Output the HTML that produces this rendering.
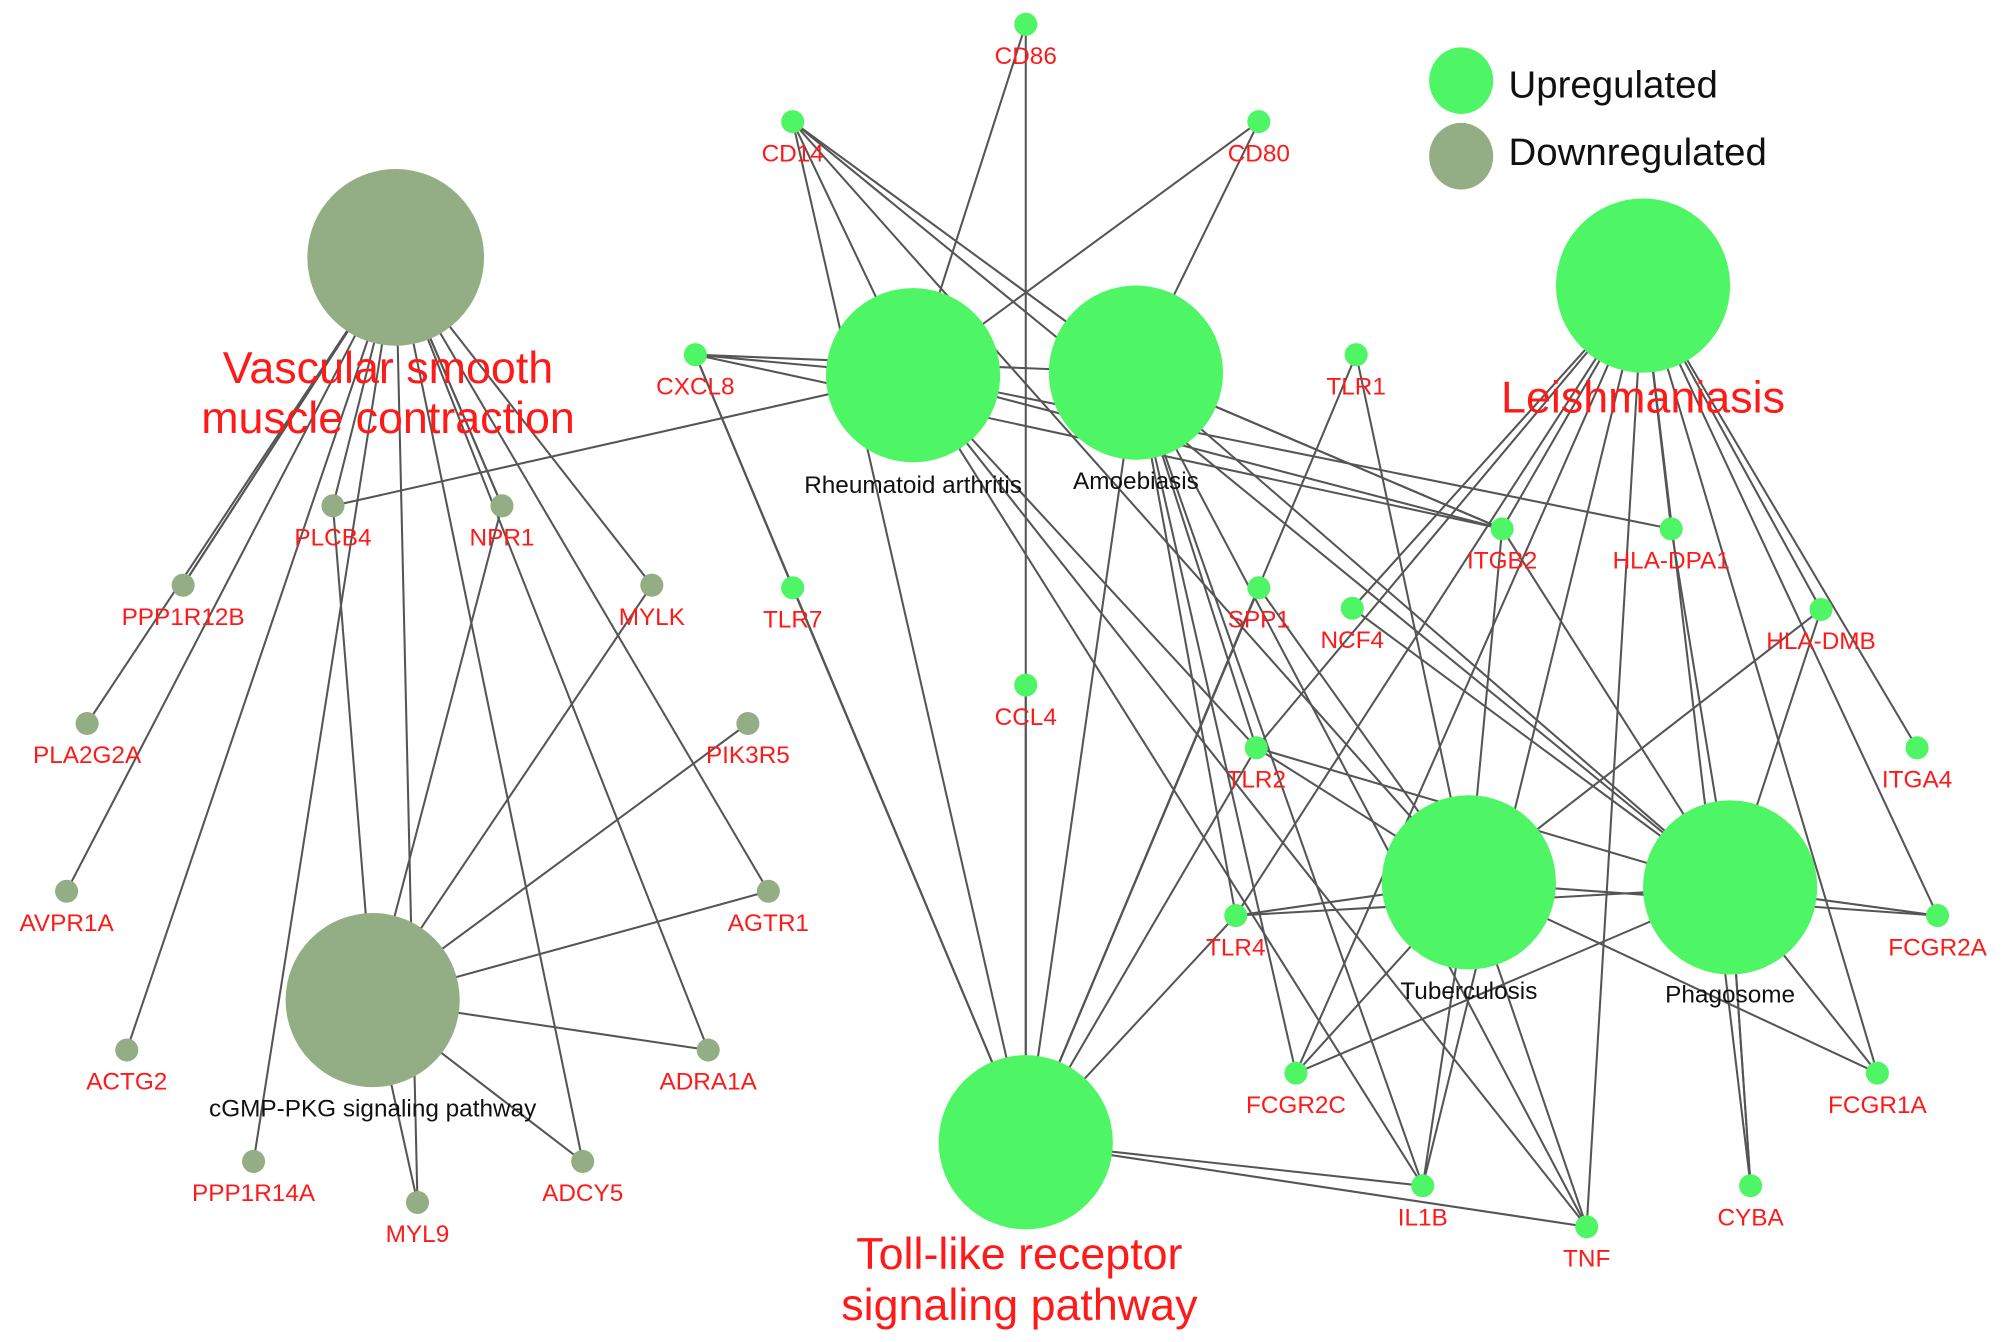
<!DOCTYPE html>
<html><head><meta charset="utf-8"><style>
html,body{margin:0;padding:0;background:#fff;}
svg{display:block;}
text{font-family:"Liberation Sans",Arial,sans-serif;}
</style></head><body>
<svg width="2008" height="1342" viewBox="0 0 1568 1048" preserveAspectRatio="none" xmlns="http://www.w3.org/2000/svg">
<g id="edges" stroke="#555" stroke-width="1.6" fill="none"></g>
<g id="nodes"></g>
<g id="labels"></g>
</svg>
<script>
const N={
VSMC:[309,201,69,'d'],CGMP:[291,781,68,'d'],RA:[713,293,68,'u'],AMO:[887,291,68,'u'],LEI:[1283,223,68,'u'],TOLL:[801,892,68,'u'],TB:[1147,689,68,'u'],PHA:[1351,693,68,'u'],
CD86:[801,19,9,'u'],CD14:[619,95,9,'u'],CD80:[983,95,9,'u'],CXCL8:[543,277,9,'u'],TLR1:[1059,277,9,'u'],PLCB4:[260,395,9,'d'],NPR1:[392,395,9,'d'],PPP1R12B:[143,457,9,'d'],MYLK:[509,457,9,'d'],TLR7:[619,459,9,'u'],SPP1:[983,459,9,'u'],NCF4:[1056,475,9,'u'],ITGB2:[1173,413,9,'u'],'HLA-DPA1':[1305,413,9,'u'],'HLA-DMB':[1422,476,9,'u'],CCL4:[801,535,9,'u'],PLA2G2A:[68,565,9,'d'],PIK3R5:[584,565,9,'d'],TLR2:[981,584,9,'u'],ITGA4:[1497,584,9,'u'],AVPR1A:[52,696,9,'d'],AGTR1:[600,696,9,'d'],TLR4:[965,715,9,'u'],FCGR2A:[1513,715,9,'u'],ACTG2:[99,820,9,'d'],ADRA1A:[553,820,9,'d'],FCGR2C:[1012,838,9,'u'],FCGR1A:[1466,838,9,'u'],PPP1R14A:[198,907,9,'d'],ADCY5:[455,907,9,'d'],MYL9:[326,939,9,'d'],IL1B:[1111,926,9,'u'],CYBA:[1367,926,9,'u'],TNF:[1239,958,9,'u']};
const E={
VSMC:['PPP1R12B','PPP1R12B','PLA2G2A','AVPR1A','ACTG2','PPP1R14A','PLCB4','MYL9','NPR1','NPR1','ADCY5','ADRA1A','MYLK','AGTR1'],
CGMP:['PLCB4','NPR1','MYLK','PIK3R5','AGTR1','ADRA1A','ADCY5','MYL9'],
RA:['CD86','CD80','CD14','CXCL8','PLCB4','ITGB2','HLA-DPA1','TLR2','TNF','IL1B'],
AMO:['CD14','CD80','CXCL8','ITGB2','ITGB2','TLR2','TLR4','IL1B','TNF','FCGR2C','PHA'],
LEI:['ITGB2','HLA-DPA1','HLA-DMB','NCF4','TLR2','TLR4','FCGR2C','IL1B','TNF','CYBA','FCGR2A','FCGR1A','ITGA4'],
TOLL:['CD86','CD14','TLR7','CCL4','CXCL8','SPP1','SPP1','TLR1','TLR2','TLR4','IL1B','TNF','AMO'],
TB:['TLR1','TLR2','TLR4','ITGB2','HLA-DMB','FCGR2C','FCGR2A','FCGR1A','IL1B','TNF','CD14','SPP1'],
PHA:['TLR2','TLR4','ITGB2','HLA-DPA1','HLA-DMB','NCF4','CYBA','CYBA','FCGR2A','FCGR1A','FCGR2C','CD14'],
CXCL8:['TLR7','ITGB2']};
const ns='http://www.w3.org/2000/svg';
const ge=document.getElementById('edges'),gn=document.getElementById('nodes'),gl=document.getElementById('labels');
function el(t,a,p){const e=document.createElementNS(ns,t);for(const k in a)e.setAttribute(k,a[k]);p.appendChild(e);return e;}
for(const s in E){if(!N[s])continue;E[s].forEach(t=>{const a=N[s],b=N[t];el('line',{x1:a[0],y1:a[1],x2:b[0],y2:b[1]},ge);});}
for(const k in N){const n=N[k];el('circle',{cx:n[0],cy:n[1],r:n[2],fill:n[3]=='u'?'#4ef564':'#93ae84'},gn);
if(n[2]<20){const t=el('text',{x:n[0],y:n[1]+31,'text-anchor':'middle','font-size':19,fill:'#ff1a1a'},gl);t.textContent=k;}}
function T(x,y,s,c,txt){const t=el('text',{x:x,y:y,'text-anchor':'middle','font-size':s,fill:c},gl);t.textContent=txt;}
T(303,299,35,'#ff1a1a','Vascular smooth');T(303,338,35,'#ff1a1a','muscle contraction');
T(291,872,19,'#111','cGMP-PKG signaling pathway');
T(713,385,19,'#111','Rheumatoid arthritis');T(887,382,19,'#111','Amoebiasis');
T(1283,322,35,'#ff1a1a','Leishmaniasis');
T(796,991,35,'#ff1a1a','Toll-like receptor');T(796,1031,35,'#ff1a1a','signaling pathway');
T(1147,780,19,'#111','Tuberculosis');T(1351,783,19,'#111','Phagosome');
el('ellipse',{cx:1141,cy:63,rx:25,ry:26,fill:'#4ef564'},gn);el('ellipse',{cx:1141,cy:122,rx:25,ry:26,fill:'#93ae84'},gn);
const a=el('text',{x:1178,y:76,'font-size':30,fill:'#111'},gl);a.textContent='Upregulated';
const b=el('text',{x:1178,y:129,'font-size':30,fill:'#111'},gl);b.textContent='Downregulated';
</script>
</body></html>
